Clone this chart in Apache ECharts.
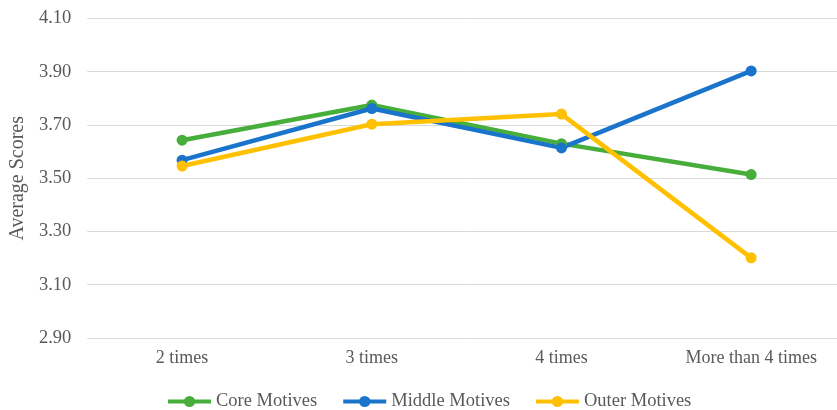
<!DOCTYPE html>
<html>
<head>
<meta charset="utf-8">
<script src="https://cdn.jsdelivr.net/npm/echarts@6/dist/echarts.min.js"></script>
<style>
  html, body { margin: 0; padding: 0; background: #ffffff; overflow: hidden; }
  /* chart is a little wider than the window so the plot area runs past the right edge */
  #chart { width: 846px; height: 410px; }
</style>
</head>
<body>
<div id="chart"></div>
<script>
// Visit frequency groups on the x axis
const categories = ['2 times', '3 times', '4 times', 'More than 4 times'];

// Average scores per motive layer
const coreMotives = [3.643, 3.775, 3.630, 3.514];
const middleMotives = [3.568, 3.762, 3.614, 3.903];
const outerMotives = [3.546, 3.703, 3.741, 3.201];

// Value-axis tick labels
const yTicks = [2.9, 3.1, 3.3, 3.5, 3.7, 3.9, 4.1];

const FONT = '"Liberation Serif", "Times New Roman", serif';
const TEXT = '#595959';

const chart = echarts.init(document.getElementById('chart'), null, { renderer: 'canvas' });

function lineSeries(name, data, color) {
  return {
    name: name,
    type: 'line',
    data: data,
    symbol: 'circle',
    symbolSize: 11,
    lineStyle: { width: 4.5, color: color },
    itemStyle: { color: color },
    emphasis: { disabled: true },
    animation: false
  };
}

chart.setOption({
  backgroundColor: '#ffffff',
  textStyle: { fontFamily: FONT },
  grid: { left: 87, right: 0, top: 18.5, bottom: 72, containLabel: false },
  legend: {
    left: 161,
    top: 387,
    itemWidth: 43,
    itemHeight: 14,
    itemGap: 24,
    lineStyle: { width: 4 },
    textStyle: { fontFamily: FONT, fontSize: 18.5, color: TEXT },
    data: ['Core Motives', 'Middle Motives', 'Outer Motives']
  },
  xAxis: {
    type: 'category',
    data: categories,
    boundaryGap: true,
    axisLine: { show: false },
    axisTick: { show: false },
    axisLabel: { fontFamily: FONT, fontSize: 18, color: TEXT, margin: 11, interval: 0 }
  },
  yAxis: {
    type: 'value',
    min: 2.9,
    max: 4.1,
    name: 'Average Scores',
    nameLocation: 'middle',
    nameGap: 57,
    nameRotate: 90,
    nameTextStyle: { fontFamily: FONT, fontSize: 20, color: TEXT },
    axisLine: { show: false },
    axisTick: { show: false, customValues: yTicks },
    axisLabel: {
      customValues: yTicks,
      fontFamily: FONT,
      fontSize: 18.5,
      color: TEXT,
      margin: 16,
      formatter: v => v.toFixed(2)
    },
    splitLine: { show: true, lineStyle: { color: '#D9D9D9', width: 1 } }
  },
  series: [
    lineSeries('Core Motives', coreMotives, '#47AE3C'),
    lineSeries('Middle Motives', middleMotives, '#1A74CC'),
    lineSeries('Outer Motives', outerMotives, '#FFC000')
  ]
});
</script>
</body>
</html>
